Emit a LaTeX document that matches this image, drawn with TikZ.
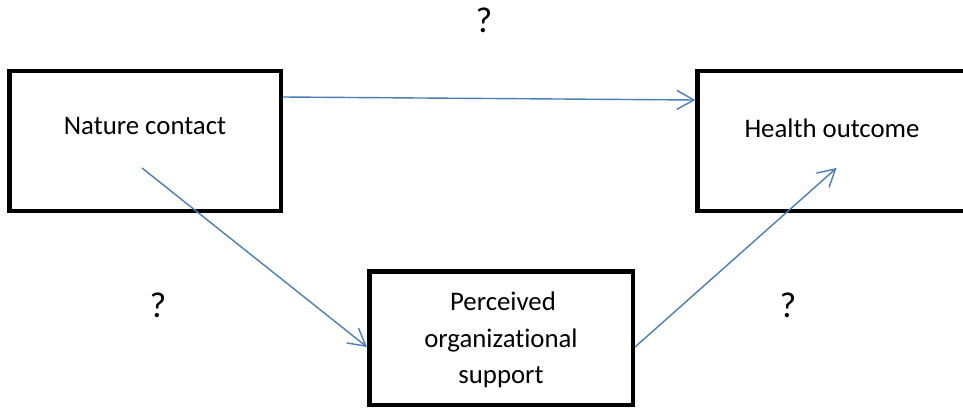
\documentclass[tikz,border=0pt]{standalone}
\usepackage{fontspec}
\setmainfont{Carlito}[Ligatures=NoCommon]
\usetikzlibrary{arrows.meta}
\definecolor{linkblue}{HTML}{4A7EBB}
\begin{document}
\begin{tikzpicture}[x=1pt,y=-1pt,
  box/.style={draw=black,line width=4.5pt,minimum width=#1,inner sep=0pt},
  box/.default=271.5pt,
  txt/.style={font=\fontsize{26.8}{32}\selectfont,inner sep=0pt,anchor=base},
  qmark/.style={font=\fontsize{36}{40}\selectfont,inner sep=0pt},
  link/.style={draw=linkblue,line width=1.4pt,
    -{Straight Barb[length=17pt,width=19pt,line width=1.4pt]}}]
  \clip (0,0) rectangle (963,409);
  \fill[white] (0,0) rectangle (963,409);

  % the three boxes
  \node[box=271.5pt,minimum height=139.5pt] (nature) at (145,141) {};
  \node[box=270pt,minimum height=139.5pt] (health) at (832.5,141) {};
  \node[box=263.5pt,minimum height=133.5pt] (pos) at (501,338) {};

  % box texts
  \node[txt] (natureT) at (145,135) {Nature contact};
  \node[txt] (healthT) at (832,137) {Health outcome};
  \node[txt] (posA) at (503,310) {Perceived};
  \node[txt] (posB) at (501,347) {organizational};
  \node[txt] (posC) at (501,383) {support};

  % path labels
  \node[qmark] (qTop) at (484,20) {?};
  \node[qmark] (qLeft) at (158,305) {?};
  \node[qmark] (qRight) at (788,305) {?};

  % connectors
  \draw[link] ([yshift=44pt]nature.east) -- ([yshift=41pt]health.west);
  \draw[link] ([shift={(-3pt,-27pt)}]nature.center) -- ([yshift=-9pt]pos.west);
  \draw[link] ([yshift=-9pt]pos.east) -- ([shift={(4pt,-27pt)}]health.center);
\end{tikzpicture}
\end{document}
